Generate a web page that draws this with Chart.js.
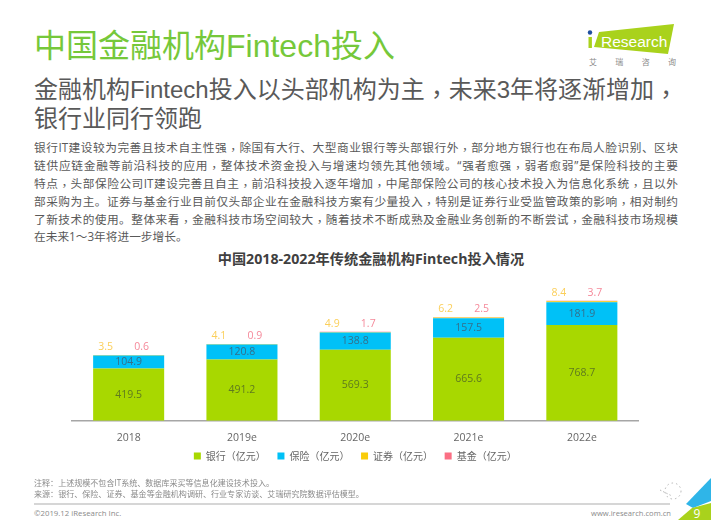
<!DOCTYPE html>
<html>
<head>
<meta charset="utf-8">
<script src="https://cdn.jsdelivr.net/npm/chart.js@4"></script>
<style>
  html, body { margin: 0; padding: 0; background: #fff; }
  body { width: 711px; height: 520px; position: relative; overflow: hidden; font-family: "Open Sans", "Noto Sans CJK SC", sans-serif; }
  .t { position: absolute; white-space: nowrap; }
  .p { font-family: "Noto Sans CJK TC", sans-serif; position: relative; top: 0.2em; }
  #head { left: 34px; top: 24px; font-family: "Liberation Sans", "Noto Sans CJK SC", sans-serif; font-size: 32px; line-height: 44px; color: #76c83a; }
  #sub { left: 34px; top: 73px; font-family: "Liberation Sans", "Noto Sans CJK SC", sans-serif; font-size: 24px; line-height: 29px; color: #595959; }
  #body { left: 34px; top: 138px; width: 644px; font-size: 11.7px; line-height: 17px; color: #595959; }
  #body div { text-align: justify; text-align-last: justify; }
  #body div:last-child { text-align-last: left; }
  #ctitle { left: 0; width: 742px; text-align: center; top: 250px; font-size: 14.2px; line-height: 18px; font-weight: 700; color: #404040; }
  #note { left: 34px; top: 478px; font-size: 8.05px; line-height: 10.5px; color: #8a8a8a; }
  #copy { left: 34px; top: 508px; font-size: 7.8px; line-height: 11px; color: #8a8a8a; }
  #site { right: 40px; top: 508px; font-size: 7.6px; line-height: 11px; color: #8a8a8a; }
  #logo-cn { left: 589px; top: 56px; width: 87px; font-size: 8px; line-height: 11px; color: #8a8a8a; display: flex; justify-content: space-between; }
  #chart { position: absolute; left: 0; top: 270px; }
  svg { position: absolute; left: 0; top: 0; }
</style>
</head>
<body>
<svg width="711" height="520">
  <polygon points="599,32 674,24 668,54 594,47" fill="#a9d21c"/>
  <circle cx="590" cy="32.5" r="2.2" fill="#1f4fa0"/>
  <rect x="588.5" y="37" width="3.4" height="11" fill="#a9d21c"/>
  <text x="601" y="47" font-size="15.5" fill="#fff" font-family="Liberation Sans">Research</text>
  <line x1="34" y1="504" x2="670" y2="504" stroke="#c8c8c8" stroke-width="1.4"/>
  <polygon points="711,478 711,501 693,508 686,504" fill="#2fb5e8"/>
  <polygon points="692,508 711,503 711,520 678,520" fill="#a9d21c"/>
  <circle cx="673" cy="491" r="8" fill="none" stroke="#999" stroke-width="0.7" stroke-dasharray="1.5 3"/>
  <line x1="660" y1="490" x2="672" y2="496" stroke="#999" stroke-width="0.7" stroke-dasharray="1.5 2"/>
  <text x="697" y="518" font-size="12" fill="#fff" text-anchor="middle" font-family="Open Sans">9</text>
</svg>
<div class="t" id="head">中国金融机构Fintech投入</div>
<div class="t" id="sub">金融机构Fintech投入以头部机构为主，未来3年将逐渐增加，<br>银行业同行领跑</div>
<div class="t" id="logo-cn"><span>艾</span><span>瑞</span><span>咨</span><span>询</span></div>
<div class="t" id="body">
  <div>银行IT建设较为完善且技术自主性强，除国有大行、大型商业银行等头部银行外，部分地方银行也在布局人脸识别、区块</div>
  <div>链供应链金融等前沿科技的应用，整体技术资金投入与增速均领先其他领域。“强者愈强，弱者愈弱”是保险科技的主要</div>
  <div>特点，头部保险公司IT建设完善且自主，前沿科技投入逐年增加，中尾部保险公司的核心技术投入为信息化系统，且以外</div>
  <div>部采购为主。证券与基金行业目前仅头部企业在金融科技方案有少量投入，特别是证券行业受监管政策的影响，相对制约</div>
  <div>了新技术的使用。整体来看，金融科技市场空间较大，随着技术不断成熟及金融业务创新的不断尝试，金融科技市场规模</div>
  <div>在未来1～3年将进一步增长。</div>
</div>
<div class="t" id="ctitle">中国2018-2022年传统金融机构Fintech投入情况</div>
<canvas id="chart" width="711" height="217"></canvas>
<div class="t" id="note">注释：上述规模不包含IT系统、数据库采买等信息化建设技术投入。<br>来源：银行、保险、证券、基金等金融机构调研、行业专家访谈、艾瑞研究院数据评估模型。</div>
<div class="t" id="copy">©2019.12 iResearch Inc.</div>
<div class="t" id="site">www.iresearch.com.cn</div>
<script>
const years = ["2018", "2019e", "2020e", "2021e", "2022e"]
const bank = [419.5, 491.2, 569.3, 665.6, 768.7]
const insurance = [104.9, 120.8, 138.8, 157.5, 181.9]
const securities = [3.5, 4.1, 4.9, 6.2, 8.4]
const fund = [0.6, 0.9, 1.7, 2.5, 3.7]

const fontFamily = '"Open Sans", "Noto Sans CJK SC", sans-serif'

// commas sit in the middle of the em box in the original
document.querySelectorAll("#sub, #body div").forEach((el) => {
  el.innerHTML = el.innerHTML.replace(/，/g, '<span class="p">，</span>')
})

// labels: inside the bar for the two big series, above the stack for the small ones
const valueLabels = {
  id: "valueLabels",
  afterLayout(chart) {
    // pull the legend closer to the axis
    chart.legend.top -= 8
  },
  afterDatasetsDraw(chart) {
    const c = chart.ctx
    c.save()
    c.font = "10.5px " + fontFamily
    c.textAlign = "center"
    c.textBaseline = "middle"
    const last = chart.data.datasets.length - 1
    chart.data.datasets.forEach((ds, i) => {
      chart.getDatasetMeta(i).data.forEach((bar, j) => {
        c.fillStyle = ds.labelColor
        let x = bar.x
        let y = (bar.y + bar.base) / 2
        if (i >= 2) {
          x += i == 2 ? -23 : 13
          y = chart.getDatasetMeta(last).data[j].y - 8
        }
        c.fillText(ds.data[j].toFixed(1), x, y)
      })
    })
    c.restore()
  }
}

new Chart(document.querySelector("#chart"), {
  type: "bar",
  data: {
    labels: years,
    datasets: [
      { label: "银行（亿元）", data: bank, backgroundColor: "#a8d800", labelColor: "#5f7a1e" },
      { label: "保险（亿元）", data: insurance, backgroundColor: "#00c1f7", labelColor: "#33708c" },
      { label: "证券（亿元）", data: securities, backgroundColor: "#f9cc0a", labelColor: "#fbcf5a" },
      { label: "基金（亿元）", data: fund, backgroundColor: "#fb6f84", labelColor: "#f5899a" }
    ]
  },
  options: {
    responsive: false,
    animation: false,
    layout: { padding: { left: 72, right: 72.5, top: 10, bottom: 8 } },
    datasets: { bar: { categoryPercentage: 1, barPercentage: 0.627, borderWidth: 0 } },
    plugins: {
      tooltip: { enabled: false },
      title: { display: false },
      legend: {
        position: "bottom",
        labels: {
          boxWidth: 7,
          boxHeight: 7,
          padding: 11.6,
          color: "#666",
          font: { size: 10, family: '"Noto Sans CJK TC", sans-serif' }
        }
      }
    },
    scales: {
      x: {
        stacked: true,
        grid: { display: false },
        border: { color: "#a6a6a6", width: 1.5 },
        ticks: { color: "#666", padding: 3, font: { size: 10.5, family: fontFamily } }
      },
      y: { stacked: true, display: false, min: 0, max: 1130 }
    }
  },
  plugins: [valueLabels]
})
</script>
</body>
</html>
